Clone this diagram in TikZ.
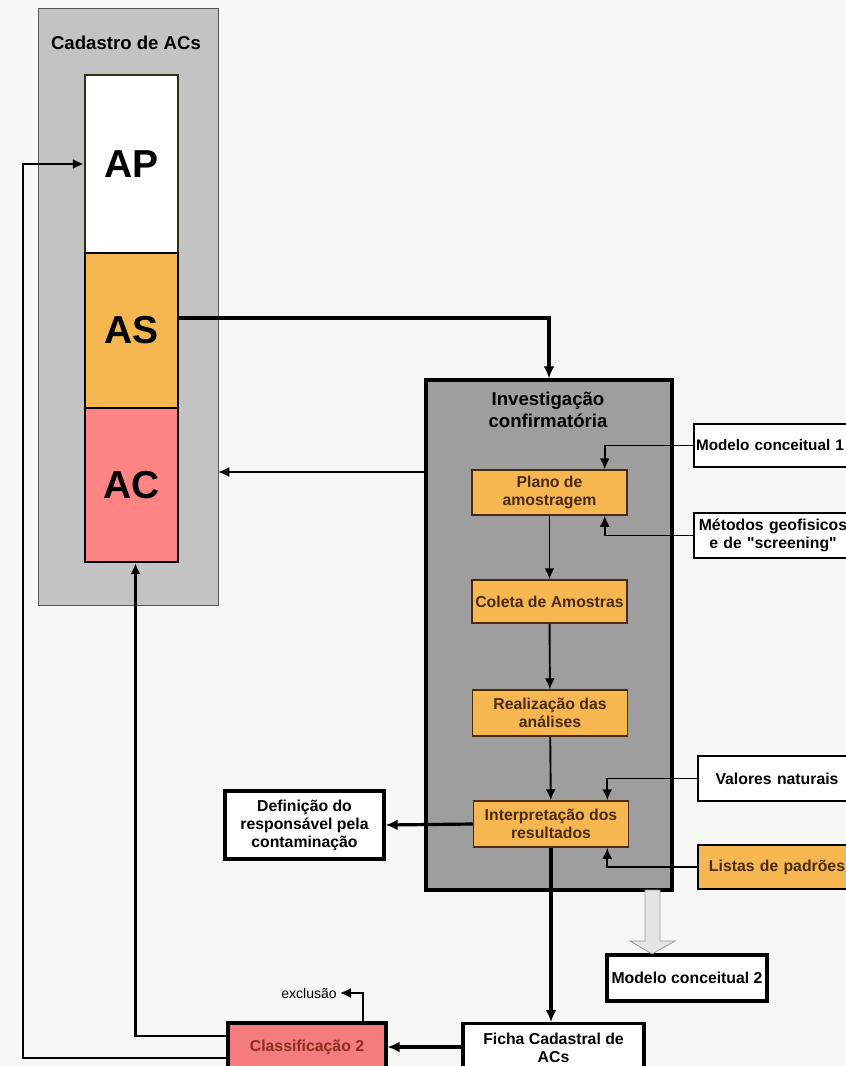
\documentclass[tikz,border=0pt]{standalone}
\usepackage{fontspec}
\setmainfont{Liberation Sans}
\usetikzlibrary{arrows.meta}

\definecolor{paper}{HTML}{F7F7F5}
\definecolor{cadgray}{HTML}{C3C3C3}
\definecolor{invgray}{HTML}{9E9E9E}
\definecolor{boxorange}{HTML}{F6B750}
\definecolor{acpink}{HTML}{FF8585}
\definecolor{clspink}{HTML}{F47C7C}
\definecolor{txtbrown}{HTML}{4A2A08}
\definecolor{clsred}{HTML}{8A2E1E}
\definecolor{apline}{HTML}{2E2E10}

\newcommand{\boxfont}{\fontsize{15.8}{18}\selectfont\bfseries}
\newcommand{\bigfont}{\fontsize{39}{40}\selectfont\bfseries}
\newcommand{\headfont}{\fontsize{18.6}{22.5}\selectfont\bfseries}

\tikzset{
  conn/.style={draw=black, line width=3.2pt, -{Latex[length=12pt,width=11pt]}},
  thinconn/.style={draw=black, line width=1.9pt, -{Latex[length=11pt,width=10pt]}},
  stepbox/.style={draw=txtbrown, line width=1.5pt, fill=boxorange, text=txtbrown,
    minimum width=155pt, minimum height=45pt, align=center, inner sep=0pt, font=\boxfont},
  sidebox/.style={draw=black, line width=2pt, fill=white, anchor=west, text width=150pt,
    inner xsep=4pt, inner ysep=0pt, align=center, font=\boxfont},
  outbox/.style={draw=black, line width=3.2pt, fill=white, align=center, inner sep=0pt, font=\boxfont},
  classbox/.style={draw=apline, line width=2.2pt, inner sep=0pt, minimum width=93pt, font=\bigfont}
}

\begin{document}
\begin{tikzpicture}[x=1pt, y=-1pt]
  \useasboundingbox (0,0) rectangle (846,1066);
  \clip (0,0) rectangle (846,1066);
  \fill[paper] (0,0) rectangle (846,1066);

  % Cadastro de ACs
  \node[draw=gray!70!black, line width=0.6pt, fill=cadgray, minimum width=180pt, minimum height=597pt] (cad) at (128,306.5) {};
  \node[font=\headfont] (cadtitle) at (126,43) {Cadastro de ACs};
  \node[classbox, fill=white, minimum height=178pt] (AP) at (131.5,164) {AP};
  \node[classbox, draw=black, fill=boxorange, minimum height=155pt] (AS) at (131.5,330.5) {AS};
  \node[classbox, draw=black, fill=acpink, minimum height=154pt] (AC) at (131.5,485) {AC};

  % Investigacao confirmatoria
  \node[draw=black, line width=3.4pt, fill=invgray, minimum width=246pt, minimum height=510pt] (inv) at (549,635) {};
  \node[font=\headfont, align=center] (invtitle) at (548,410) {Investigação\\confirmatória};
  \node[stepbox] (plano) at (549.5,492.5) {Plano de\\amostragem};
  \node[stepbox, minimum height=43pt] (coleta) at (549.5,601.5) {Coleta de Amostras};
  \node[stepbox, minimum height=46pt] (analise) at (550,713) {Realização das\\análises};
  \node[stepbox, minimum height=46pt] (interp) at (551,824) {Interpretação dos\\resultados};

  % Entradas
  \node[sidebox, minimum height=43pt, text width=170pt, inner xsep=2pt, align=left,
    font=\fontsize{15.3}{18}\selectfont\bfseries] (mod1) at (693,445.5) {Modelo conceitual 1};
  \node[sidebox, minimum height=45pt] (metod) at (693,535.5) {Métodos geofisicos\\e de \textquotedbl screening\textquotedbl};
  \node[sidebox, minimum height=45pt] (valor) at (697,778.5) {Valores naturais};
  \node[sidebox, fill=boxorange, text=txtbrown, minimum height=44pt] (lista) at (697,867) {Listas de padrões};

  % Saidas
  \node[outbox, minimum width=159pt, minimum height=68pt] (def) at (304.5,825) {Definição do\\responsável pela\\contaminação};
  \node[outbox, line width=3.6pt, minimum width=160pt, minimum height=46pt] (mod2) at (687,978) {Modelo conceitual 2};
  \node[outbox, minimum width=181pt, minimum height=49pt, anchor=north] (ficha) at (553.5,1022) {Ficha Cadastral de\\ACs};
  \node[outbox, fill=clspink, text=clsred, minimum width=158pt, minimum height=48pt] (clas) at (307,1047) {Classificação 2};
  \node[font=\fontsize{14}{16}\selectfont, inner sep=3pt] (excl) at (309,993) {exclusão};

  % Conectores
  \draw[conn] ([yshift=12.5pt]AS.east) -| (inv.north);
  \coordinate (acin) at ([yshift=13pt]AC.east);
  \draw[thinconn, line width=1.6pt] (inv.west |- acin) -- (cad.east |- acin);
  \draw[thinconn] (plano) -- (coleta);
  \draw[thinconn] (coleta) -- (analise);
  \draw[thinconn] (analise) -- (interp);
  \draw[thinconn] (mod1.west) -| ([xshift=-23pt]plano.north east);
  \draw[thinconn] (metod.west) -| ([xshift=-23pt]plano.south east);
  \draw[thinconn] (valor.west) -| ([xshift=-22pt]interp.north east);
  \draw[thinconn] (lista.west) -| ([xshift=-22pt]interp.south east);
  \draw[conn] (interp.west) -- (def.east);
  \draw[conn] (interp.south) -- (interp.south |- ficha.north);
  \draw[conn] (ficha.west |- clas.east) -- (clas.east);
  \draw[thinconn, line width=2.2pt] ([xshift=56pt]clas.north) |- (excl.east);
  \draw[thinconn, line width=2.4pt] ([yshift=11pt]clas.west) -| ([xshift=4pt]AC.south);
  \draw[thinconn, line width=2.4pt] ([yshift=-11pt]clas.west) -| ([xshift=-61pt]AP.west) -- (AP.west);

  % seta vazada para o Modelo conceitual 2
  \draw[draw=gray!80, line width=0.8pt, fill=gray!20]
    (645,890) -- (660,890) -- (660,941) -- (675,941) -- (652,954) -- (630,941) -- (645,941) -- cycle;
\end{tikzpicture}
\end{document}
